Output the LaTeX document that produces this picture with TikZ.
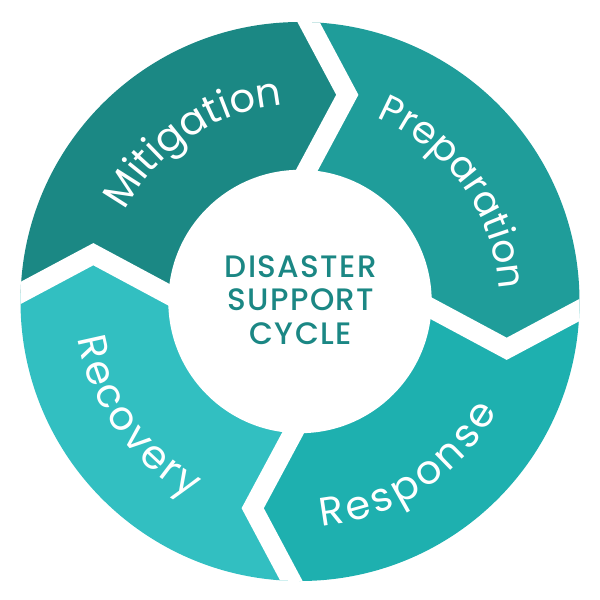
\documentclass[tikz,border=0pt]{standalone}
\usepackage{fontspec}
\setmainfont{Poppins}
\newfontfamily\centerfont{Poppins Medium}[LetterSpace=4.5]
\usetikzlibrary{decorations.text}
\definecolor{cMit}{RGB}{27,136,132}
\definecolor{cPre}{RGB}{31,157,154}
\definecolor{cRes}{RGB}{30,176,175}
\definecolor{cRec}{RGB}{50,191,193}
\definecolor{cTxt}{RGB}{27,135,132}
\begin{document}
\begin{tikzpicture}[x=1pt,y=1pt,
  seglabel/.style 2 args={decorate, decoration={text along path, text={|\fontsize{#1}{#1}\selectfont|#2}, text align={fit to path}, text color=white}},
  segfill/.style={fill=#1},
  gapline/.style={draw=white, line width=19.6pt, line join=miter}
]
\useasboundingbox (-300,-298.5) rectangle (300,301.5);
\begin{scope}
  \clip (0,0) circle[radius=279.5pt];
  \foreach \ang/\col in {0/cMit,-90/cPre,-180/cRes,-270/cRec}{
    \path[segfill=\col, rotate=\ang] (-14.8,323.2) -- (47.3,206.7) -- (-17.2,86.4) -- (0,0) -- (-86.4,-17.2) -- (-206.7,47.3) -- (-323.2,-14.8) -- (-400,400) -- (-14.8,400) -- cycle;
  }
  \foreach \ang in {0,-90,-180,-270}{
    \path[gapline, rotate=\ang] (-14.8,323.2) -- (47.3,206.7) -- (-17.2,86.4);
  }
\end{scope}
\fill[white] (0,0) circle[radius=131.7pt];
\path[seglabel={40}{Mitigation}] (152.6:197pt) arc[start angle=152.6, end angle=97, radius=197pt];
\path[seglabel={38}{Preparation}] (67.5:199pt) arc[start angle=67.5, end angle=3.5, radius=199pt];
\path[seglabel={40}{Response}] (-84.5:226pt) arc[start angle=-84.5, end angle=-29, radius=226pt];
\path[seglabel={40}{Recovery}] (189.5:225pt) arc[start angle=189.5, end angle=241, radius=225pt];
\node[font=\centerfont\fontsize{31}{33.5}\selectfont, text=cTxt, align=center, inner sep=0pt] (title) at (0.8,1.4) {DISASTER\\SUPPORT\\CYCLE};
\end{tikzpicture}
\end{document}
